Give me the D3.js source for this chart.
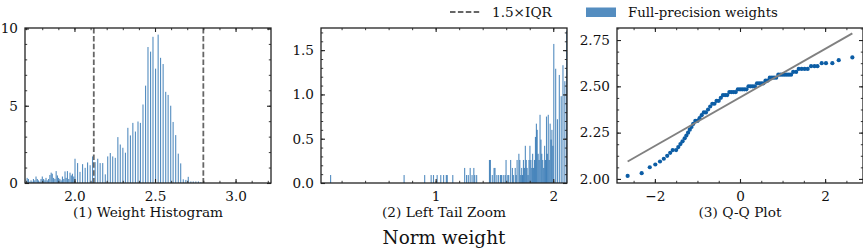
<!DOCTYPE html>
<html>
<head>
<meta charset="utf-8">
<script src="https://cdn.jsdelivr.net/npm/d3@7"></script>
<style>
  body { margin: 0; background: #fff; }
  svg text { font-family: "DejaVu Serif", "Liberation Serif", serif; fill: #111; }
</style>
</head>
<body>
<div id="chart"></div>
<script>
// histogram: bin position (bf16 values) and density
var histBins = [
  0.102, 0.727, 0.902, 0.957, 0.977, 1.008, 1.039, 1.063, 1.086, 1.094, 1.141,
  1.242, 1.258, 1.273, 1.289, 1.305, 1.320, 1.328, 1.344,
  1.453, 1.461, 1.477, 1.492, 1.500, 1.516, 1.531, 1.547, 1.555, 1.570, 1.586, 1.594,
  1.609, 1.617, 1.633, 1.648, 1.656, 1.672, 1.680, 1.688, 1.703, 1.711, 1.719, 1.727,
  1.734, 1.742, 1.750, 1.758, 1.766, 1.773, 1.781, 1.789, 1.797, 1.805, 1.813, 1.820,
  1.828, 1.836, 1.844, 1.852, 1.859, 1.867, 1.875, 1.883, 1.891, 1.898, 1.906, 1.914,
  1.922, 1.930, 1.938, 1.945, 1.953, 1.961, 1.969, 1.977, 1.984, 1.992,
  2.000, 2.016, 2.031, 2.047, 2.063, 2.078, 2.094, 2.109, 2.125, 2.141, 2.156, 2.172,
  2.188, 2.203, 2.219, 2.234, 2.250, 2.266, 2.281, 2.297, 2.313, 2.328, 2.344, 2.359,
  2.375, 2.391, 2.406, 2.422, 2.438, 2.453, 2.469, 2.484, 2.500, 2.516, 2.531, 2.547,
  2.563, 2.578, 2.594, 2.609, 2.625, 2.641, 2.656, 2.672, 2.688, 2.703, 2.719, 2.734,
  2.750, 2.766, 2.781
];
var histDensity = [
  0.09, 0.09, 0.09, 0.09, 0.09, 0.09, 0.09, 0.09, 0.09, 0.09, 0.09,
  0.17, 0.09, 0.09, 0.17, 0.09, 0.17, 0.09, 0.09,
  0.26, 0.26, 0.09, 0.17, 0.17, 0.09, 0.09, 0.09, 0.09, 0.09, 0.09, 0.26,
  0.09, 0.09, 0.26, 0.17, 0.09, 0.17, 0.09, 0.26, 0.33, 0.26, 0.09, 0.17,
  0.09, 0.26, 0.17, 0.42, 0.26, 0.17, 0.09, 0.26, 0.42, 0.26, 0.17, 0.33,
  0.17, 0.26, 0.52, 0.67, 0.60, 0.33, 0.26, 0.77, 0.49, 0.33, 0.26, 0.17,
  0.42, 0.26, 0.75, 0.33, 0.77, 0.26, 0.67, 0.49, 0.60, 0.42,
  1.57, 1.29, 0.72, 1.22, 0.98, 1.33, 1.15, 1.72, 1.35, 1.57, 1.29, 1.29,
  0.56, 1.72, 1.94, 1.72, 1.63, 2.97, 2.49, 2.28, 1.96, 3.57, 3.08, 3.89,
  3.33, 3.98, 3.89, 5.08, 6.30, 8.80, 8.50, 9.46, 7.40, 9.60, 8.10, 7.70,
  5.90, 5.70, 5.00, 3.95, 3.10, 1.90, 1.27, 0.24, 0.20, 0.40, 0.10, 0.10,
  0.10, 0.10, 0.05
];
var iqrBounds = [2.12, 2.80];

// Q-Q plot: theoretical quantiles and ordered sample
var qqTheo = [
  -2.64, -2.31, -2.12, -1.99, -1.88, -1.79, -1.71, -1.64, -1.58,
  -1.50, -1.45, -1.40, -1.35, -1.30, -1.26, -1.22, -1.18, -1.14, -1.10,
  -1.05, -1.00, -0.95, -0.90, -0.85, -0.80, -0.75, -0.70, -0.65, -0.60,
  -0.55, -0.50, -0.45, -0.40, -0.35, -0.30, -0.25, -0.20, -0.15, -0.10,
  -0.05, 0.00, 0.05, 0.10, 0.15, 0.20, 0.25, 0.30, 0.35, 0.40,
  0.45, 0.50, 0.55, 0.60, 0.65, 0.70, 0.75, 0.80, 0.85, 0.90,
  0.95, 1.00, 1.05, 1.10, 1.15, 1.20, 1.25, 1.32, 1.38, 1.45,
  1.52, 1.59, 1.67, 1.75, 1.82, 1.92, 2.02, 2.17, 2.32, 2.64
];
var qqSample = [
  2.016, 2.031, 2.063, 2.078, 2.094, 2.109, 2.125, 2.141, 2.156,
  2.156, 2.172, 2.188, 2.203, 2.219, 2.234, 2.250, 2.266, 2.281, 2.297,
  2.313, 2.313, 2.328, 2.344, 2.359, 2.359, 2.375, 2.391, 2.406, 2.406,
  2.422, 2.422, 2.438, 2.453, 2.453, 2.453, 2.469, 2.469, 2.469, 2.469,
  2.484, 2.484, 2.484, 2.484, 2.484, 2.500, 2.500, 2.500, 2.500, 2.516,
  2.516, 2.516, 2.516, 2.531, 2.531, 2.547, 2.547, 2.547, 2.547, 2.563,
  2.563, 2.563, 2.563, 2.563, 2.563, 2.563, 2.578, 2.578, 2.594, 2.594,
  2.594, 2.594, 2.609, 2.609, 2.609, 2.625, 2.625, 2.625, 2.641, 2.656
];
var qqLineX = [-2.64, 2.64];
var qqLineY = [2.094, 2.786];

var panelTitles = ["(1) Weight Histogram", "(2) Left Tail Zoom", "(3) Q-Q Plot"];
var xLabel = "Norm weight";
var legendLabels = ["1.5\u00d7IQR", "Full-precision weights"];

var W = 863, H = 248;
var panelTop = 28, panelW = 246, panelH = 155;
var panelLeft = [25, 321, 617];
var barColor = "#0C5DA5";

var svg = d3.select("#chart").append("svg")
    .attr("width", W)
    .attr("height", H);

var panels = [
  { x: d3.scaleLinear().domain([1.693, 3.22]), y: d3.scaleLinear().domain([0, 10.03]),
    xTicks: [2.0, 2.5, 3.0], xFmt: d3.format(".1f"), xMinor: 0.1,
    yTicks: [0, 5, 10], yFmt: d3.format("d"), yMinor: 1 },
  { x: d3.scaleLinear().domain([0.025, 2.117]), y: d3.scaleLinear().domain([0, 1.75]),
    xTicks: [1, 2], xFmt: d3.format("d"), xMinor: 0.2,
    yTicks: [0, 0.5, 1.0, 1.5], yFmt: d3.format(".1f"), yMinor: 0.1 },
  { x: d3.scaleLinear().domain([-2.89, 2.89]), y: d3.scaleLinear().domain([1.978, 2.815]),
    xTicks: [-2, 0, 2], xFmt: d3.format("d"), xMinor: 0.5,
    yTicks: [2.0, 2.25, 2.5, 2.75], yFmt: d3.format(".2f"), yMinor: 0.0625 }
];

var hist = histBins.map(function(b, i) { return { b: b, d: histDensity[i] }; });

panels.forEach(function(p, i) {
  p.x.range([0, panelW]);
  p.y.range([panelH, 0]);
  var g = svg.append("g").attr("transform", "translate(" + panelLeft[i] + "," + panelTop + ")");
  g.append("clipPath").attr("id", "clip" + i)
    .append("rect").attr("width", panelW).attr("height", panelH);
  var body = g.append("g").attr("clip-path", "url(#clip" + i + ")");

  if (i < 2) {
    body.selectAll(".bar")
      .data(hist)
      .enter().append("rect")
      .attr("class", "bar")
      .attr("x", function(d) { return p.x(d.b); })
      .attr("y", function(d) { return p.y(d.d); })
      .attr("width", 1.1)
      .attr("height", function(d) { return panelH - p.y(d.d); })
      .attr("fill", barColor)
      .attr("fill-opacity", 0.7);
  }
  if (i === 0) {
    body.selectAll(".iqr")
      .data(iqrBounds)
      .enter().append("line")
      .attr("class", "iqr")
      .attr("x1", function(d) { return p.x(d); })
      .attr("x2", function(d) { return p.x(d); })
      .attr("y1", 0).attr("y2", panelH)
      .attr("stroke", "#666")
      .attr("stroke-width", 1.8)
      .attr("stroke-dasharray", "5.5,2.4");
  }
  if (i === 2) {
    body.selectAll(".pt")
      .data(qqTheo)
      .enter().append("circle")
      .attr("class", "pt")
      .attr("cx", function(d) { return p.x(d); })
      .attr("cy", function(d, j) { return p.y(qqSample[j]); })
      .attr("r", 2.1)
      .attr("fill", barColor);
    body.append("line")
      .attr("x1", p.x(qqLineX[0])).attr("y1", p.y(qqLineY[0]))
      .attr("x2", p.x(qqLineX[1])).attr("y2", p.y(qqLineY[1]))
      .attr("stroke", "#808080")
      .attr("stroke-width", 1.9);
  }

  drawAxes(g, p);

  g.append("text")
    .attr("x", panelW / 2)
    .attr("y", 188.5)
    .attr("text-anchor", "middle")
    .style("font-size", "13.7px")
    .text(panelTitles[i]);
});

function minorValues(scale, step) {
  var dom = scale.domain();
  var start = Math.ceil(dom[0] / step) * step;
  return d3.range(start, dom[1], step);
}

function drawAxes(g, p) {
  var xm = minorValues(p.x, p.xMinor), ym = minorValues(p.y, p.yMinor);
  var defs = [
    [d3.axisBottom(p.x).tickValues(p.xTicks).tickFormat(p.xFmt), "translate(0," + panelH + ")", 8.5],
    [d3.axisTop(p.x).tickValues(p.xTicks).tickFormat(""), null, 6],
    [d3.axisLeft(p.y).tickValues(p.yTicks).tickFormat(p.yFmt), null, 7],
    [d3.axisRight(p.y).tickValues(p.yTicks).tickFormat(""), "translate(" + panelW + ",0)", 6]
  ];
  var minors = [
    [d3.axisBottom(p.x).tickValues(xm), "translate(0," + panelH + ")"],
    [d3.axisTop(p.x).tickValues(xm), null],
    [d3.axisLeft(p.y).tickValues(ym), null],
    [d3.axisRight(p.y).tickValues(ym), "translate(" + panelW + ",0)"]
  ];
  minors.forEach(function(m) {
    var a = g.append("g").call(m[0].tickFormat("").tickSizeInner(-2.2).tickSizeOuter(0));
    if (m[1]) a.attr("transform", m[1]);
    a.select(".domain").remove();
    a.selectAll("line").attr("stroke", "#222").attr("stroke-width", 0.9);
  });
  defs.forEach(function(d) {
    var a = g.append("g").call(d[0].tickSizeInner(-4).tickSizeOuter(0).tickPadding(d[2]));
    if (d[1]) a.attr("transform", d[1]);
    a.select(".domain").remove();
    a.selectAll("line").attr("stroke", "#222").attr("stroke-width", 1.1);
    a.selectAll("text")
      .attr("font-family", null)
      .style("font-size", "13.6px")
      .style("fill", "#111");
  });
  g.append("rect")
    .attr("width", panelW).attr("height", panelH)
    .attr("fill", "none")
    .attr("stroke", "#222")
    .attr("stroke-width", 1.3);
}

// shared x label, centered under the middle panel
svg.append("text")
  .attr("x", panelLeft[1] + panelW / 2)
  .attr("y", 244)
  .attr("text-anchor", "middle")
  .style("font-size", "18.4px")
  .text(xLabel);

// legend
var legend = svg.append("g");
legend.append("line")
  .attr("x1", 450).attr("x2", 481).attr("y1", 12).attr("y2", 12)
  .attr("stroke", "#666").attr("stroke-width", 1.8)
  .attr("stroke-dasharray", "5.5,2.4");
legend.append("text")
  .attr("x", 492).attr("y", 17)
  .style("font-size", "13.6px")
  .text(legendLabels[0]);
legend.append("rect")
  .attr("x", 586).attr("y", 7.5).attr("width", 30).attr("height", 9.5)
  .attr("fill", barColor).attr("fill-opacity", 0.7);
legend.append("text")
  .attr("x", 628).attr("y", 17)
  .style("font-size", "13.3px")
  .text(legendLabels[1]);
</script>
</body>
</html>
